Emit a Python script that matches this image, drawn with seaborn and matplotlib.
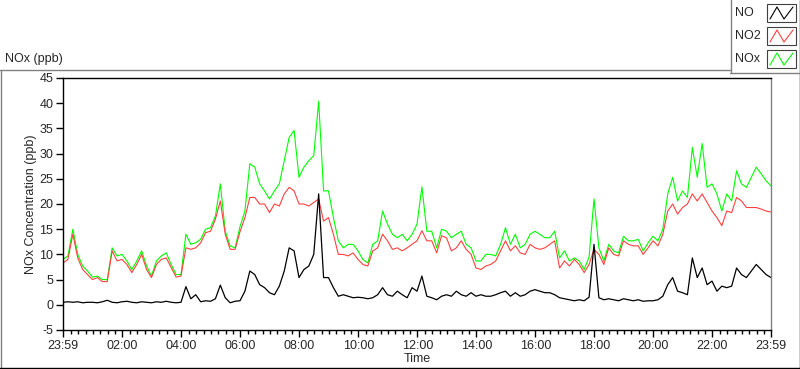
import numpy as np
import pandas as pd
import seaborn as sns
import matplotlib.pyplot as plt
import matplotlib.dates as mdates
from matplotlib.lines import Line2D
from matplotlib.patches import Rectangle

# values every 10 minutes from 23:59 to 23:59 next day (6 per hour)
no = [0.5, 0.6, 0.5, 0.6, 0.4, 0.5,
      0.5, 0.4, 0.6, 0.9, 0.5, 0.4,
      0.6, 0.7, 0.5, 0.4, 0.6, 0.5,
      0.4, 0.6, 0.5, 0.7, 0.5, 0.4,
      0.5, 3.6, 1.2, 2.0, 0.6, 0.8,
      0.7, 1.2, 3.9, 1.4, 0.4, 0.7,
      0.8, 2.7, 6.7, 6.0, 4.0, 3.4,
      2.4, 2.0, 3.7, 6.7, 11.3, 10.7,
      5.4, 7.0, 7.7, 10.0, 22.0, 5.4,
      5.4, 3.4, 1.7, 2.0, 1.7, 1.4,
      1.5, 1.4, 1.2, 1.4, 2.0, 3.4,
      2.0, 1.7, 2.7, 2.0, 1.4, 3.4,
      2.7, 5.7, 1.7, 1.4, 1.0, 1.7,
      2.0, 1.7, 2.7, 2.0, 1.7, 2.4,
      1.7, 2.0, 1.7, 1.7, 2.0, 2.4,
      2.7, 1.7, 2.4, 1.7, 2.0, 2.7,
      3.0, 2.7, 2.4, 2.4, 2.0, 1.4,
      1.2, 1.0, 0.8, 1.0, 0.8, 1.5,
      12.0, 1.4, 1.0, 1.2, 1.0, 0.8,
      1.2, 1.0, 0.8, 1.0, 0.7, 0.8,
      0.8, 1.0, 1.7, 4.0, 5.4, 2.7,
      2.4, 2.0, 9.3, 5.4, 7.3, 4.0,
      4.7, 2.7, 3.7, 3.4, 3.7, 7.3,
      6.0, 5.4, 6.7, 8.0, 7.0, 6.0,
      5.4]

no2 = [8.3, 9.0, 14.0, 9.3, 7.0, 6.0,
       5.0, 5.4, 4.6, 4.6, 10.7, 8.7,
       9.0, 8.0, 6.4, 8.0, 10.0, 7.0,
       5.4, 8.0, 9.0, 9.3, 7.4, 5.5,
       5.7, 11.3, 11.0, 11.3, 12.3, 14.3,
       14.6, 17.0, 20.6, 14.0, 11.0, 11.0,
       14.5, 17.3, 21.3, 21.3, 20.0, 20.0,
       18.3, 20.0, 19.6, 22.0, 23.3, 22.6,
       20.0, 20.0, 19.6, 20.3, 21.0, 16.6,
       17.3, 14.0, 10.0, 10.0, 9.7, 10.3,
       9.0, 8.0, 7.7, 10.7, 11.3, 14.0,
       12.7, 11.0, 11.3, 10.7, 11.3, 12.0,
       12.7, 14.7, 12.7, 12.7, 10.3, 13.7,
       13.3, 10.7, 11.3, 12.7, 11.0, 10.0,
       7.3, 7.0, 7.7, 8.0, 8.7, 10.7,
       12.7, 10.7, 11.7, 10.3, 10.0, 12.0,
       11.3, 11.0, 11.3, 12.0, 12.7, 7.3,
       8.7, 7.7, 9.0, 8.0, 6.4, 8.0,
       11.0, 10.0, 8.0, 11.3, 10.0, 9.7,
       12.7, 12.0, 11.7, 11.7, 10.0, 11.3,
       12.7, 11.7, 14.0, 18.6, 20.0, 18.0,
       19.3, 20.0, 22.0, 20.6, 22.0, 20.3,
       18.6, 17.3, 15.7, 18.6, 18.3, 21.3,
       20.6, 19.3, 19.3, 19.3, 19.0, 18.6,
       18.4]

nox = [9.0, 9.7, 15.0, 10.0, 7.7, 6.7,
       5.5, 5.7, 5.0, 5.0, 11.3, 9.7,
       10.0, 8.7, 7.0, 8.7, 10.7, 7.7,
       5.7, 8.7, 9.7, 10.3, 8.0, 6.0,
       6.0, 14.0, 12.0, 12.3, 13.0, 15.0,
       15.3, 17.6, 24.0, 14.6, 11.7, 11.3,
       15.5, 18.6, 28.0, 27.3, 24.0, 22.6,
       21.0, 22.6, 24.0, 28.6, 33.2, 34.6,
       25.3, 27.3, 28.6, 29.6, 40.4, 22.6,
       22.6, 17.3, 12.7, 11.3, 12.0, 12.0,
       10.7, 9.0, 8.3, 12.0, 12.7, 18.6,
       16.0, 14.0, 13.3, 14.0, 12.7, 14.0,
       16.0, 23.4, 14.6, 14.6, 11.3, 15.0,
       14.6, 13.3, 14.0, 14.6, 12.0, 11.3,
       8.7, 8.7, 10.0, 10.0, 9.7, 12.0,
       15.3, 12.0, 14.0, 11.3, 12.0, 14.0,
       14.6, 14.0, 13.3, 13.3, 14.6, 9.3,
       10.7, 8.7, 9.3, 8.7, 7.0, 9.5,
       21.0, 11.3, 8.7, 12.0, 10.7, 10.3,
       13.6, 12.7, 12.7, 13.0, 10.7, 12.3,
       13.6, 12.7, 15.0, 22.0, 25.3, 20.6,
       22.6, 21.3, 31.2, 25.3, 32.0, 23.3,
       24.0, 22.0, 18.6, 22.0, 20.6, 26.6,
       24.0, 23.3, 25.3, 27.3, 26.0, 24.6,
       23.6]

tick_labels = ["23:59", "02:00", "04:00", "06:00", "08:00", "10:00", "12:00",
               "14:00", "16:00", "18:00", "20:00", "22:00", "23:59"]
y_ticks = [-5, 0, 5, 10, 15, 20, 25, 30, 35, 40, 45]

t0 = pd.Timestamp("2020-01-01 23:59")
times = pd.date_range(t0, periods=len(no), freq="10min")
df = pd.DataFrame({"Time": times, "NO": no, "NO2": no2, "NOx": nox})

sns.set_style("white")
plt.rcParams['font.family'] = ['Liberation Sans', 'DejaVu Sans']
FS = 9

W, H = 800, 369
fig = plt.figure(figsize=(W / 100, H / 100), dpi=100)


def fx(x):
    return x / W


def fy(y):
    return 1 - y / H


ax = fig.add_axes([fx(63), fy(330), fx(771) - fx(63), fy(78) - fy(330)])

sns.lineplot(data=df, x="Time", y="NOx", color="#00ff00", lw=0.8, ax=ax)
sns.lineplot(data=df, x="Time", y="NO2", color="#ff4040", lw=0.8, ax=ax)
sns.lineplot(data=df, x="Time", y="NO", color="black", lw=0.9, ax=ax)

ax.set_xlim(times[0], times[-1])
ax.set_ylim(-5, 45)
ax.set_yticks(y_ticks)
ax.set_yticklabels([str(v) for v in y_ticks])

major = [times[0]] + [pd.Timestamp("2020-01-02") + pd.Timedelta(hours=h) for h in range(2, 24, 2)] + [times[-1]]
ax.set_xticks(major)
ax.set_xticklabels(tick_labels)
minor = [pd.Timestamp("2020-01-02") + pd.Timedelta(minutes=15 * k) for k in range(1, 96) if k % 8 != 0]
ax.set_xticks(minor, minor=True)

ax.tick_params(axis="both", which="major", direction="out", length=5, width=1,
               labelsize=FS, color="black", pad=2, left=True, bottom=True)
ax.tick_params(axis="x", which="minor", direction="out", length=3, width=1,
               color="black", bottom=True)

ax.set_xlabel("Time", fontsize=FS, labelpad=1)
ax.set_ylabel("NOx Concentration (ppb)", fontsize=FS)
ax.yaxis.set_label_coords(-0.037, 0.5)

for s in ["top", "left", "bottom"]:
    ax.spines[s].set_color("black")
    ax.spines[s].set_linewidth(1)
ax.spines["right"].set_color("#808080")
ax.spines["right"].set_linewidth(1)

# panel frame
def seg(x0, y0, x1, y1, c):
    fig.add_artist(Line2D([fx(x0), fx(x1)], [fy(y0), fy(y1)], color=c, lw=1,
                          transform=fig.transFigure))


seg(0, 69.5, 730, 69.5, "#808080")
seg(0.5, 69.5, 0.5, 367, "#808080")
seg(0, 367.5, 800, 367.5, "black")
seg(799.5, 0, 799.5, 368, "black")

fig.text(fx(5), fy(59), "NOx (ppb)", fontsize=FS, va="center", ha="left")

# legend box
seg(730.5, 0, 730.5, 72, "#808080")
seg(730, 72.5, 799, 72.5, "#808080")
leg = [("NO", "black"), ("NO2", "#ff4040"), ("NOx", "#00ff00")]
for i, (name, col) in enumerate(leg):
    yc = 13 + 23 * i
    fig.text(fx(735), fy(yc), name, fontsize=FS, va="center", ha="left")
    fig.add_artist(Rectangle((fx(767), fy(yc + 9)), fx(796) - fx(767), fy(yc - 9) - fy(yc + 9),
                             transform=fig.transFigure, fill=False, ec="#404040", lw=0.8))
    zx = [770, 777, 784, 793]
    zy = [yc + 6, yc - 6, yc + 6, yc - 6]
    fig.add_artist(Line2D([fx(v) for v in zx], [fy(v) for v in zy], color=col, lw=0.8,
                          transform=fig.transFigure))

fig.savefig("out.png", dpi=100)
